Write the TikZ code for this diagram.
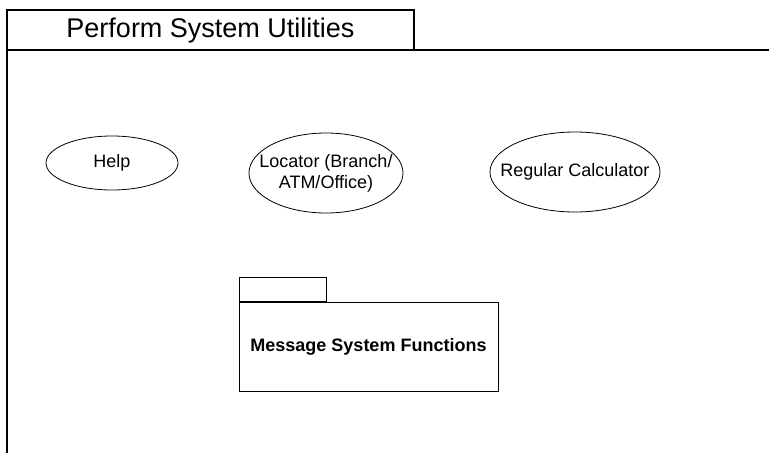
\documentclass[tikz,border=0pt]{standalone}
\usepackage{fontspec}
\setmainfont{Liberation Sans}
\usetikzlibrary{shapes.geometric}
\begin{document}
\begin{tikzpicture}[x=1pt,y=-1pt,
  frameline/.style={draw=black,line width=1.1pt},
  usecase/.style={ellipse,draw=black,line width=0.8pt,inner sep=0pt},
  uctext/.style={font=\fontsize{18}{21}\selectfont,align=center,inner sep=0pt},
  pkgbody/.style={draw=black,line width=1pt,inner sep=0pt,minimum width=259pt,minimum height=89pt,font=\bfseries\fontsize{18}{21}\selectfont},
  pkgtab/.style={draw=black,line width=1pt,inner sep=0pt,minimum width=87pt,minimum height=24pt,anchor=south west}]
  \useasboundingbox (0,0) rectangle (769,453);
  % diagram frame with its name tab
  \coordinate (fbl) at (7,453);
  \coordinate (ftl) at (7,10);
  \coordinate (ftr) at (414,10);
  \coordinate (fbr) at (414,50);
  \coordinate (fl) at (7,50);
  \coordinate (fr) at (769,50);
  \draw[frameline] (fbl) -- (ftl) -- (ftr) -- (fbr);
  \draw[frameline] (fl) -- (fr);
  \node[font=\fontsize{27}{30}\selectfont] (title) at (210.5,30.5) {Perform System Utilities};
  % use cases: outline first, then the centred caption
  \node[usecase,minimum width=132pt,minimum height=54pt] (help) at (112,163) {};
  \node[uctext] (helptext) at (help.center) {Help};
  \node[usecase,minimum width=154pt,minimum height=80pt] (locator) at (326,173) {};
  \node[uctext] (locatortext) at (locator.center) {Locator (Branch/\\ATM/Office)};
  \node[usecase,minimum width=170pt,minimum height=80pt] (calc) at (575,172) {};
  \node[uctext] (calctext) at (calc.center) {Regular Calculator};
  % package
  \node[pkgbody] (pkg) at (368.5,346.5) {Message System Functions};
  \node[pkgtab] (pkgtab) at (pkg.north west) {};
\end{tikzpicture}
\end{document}
